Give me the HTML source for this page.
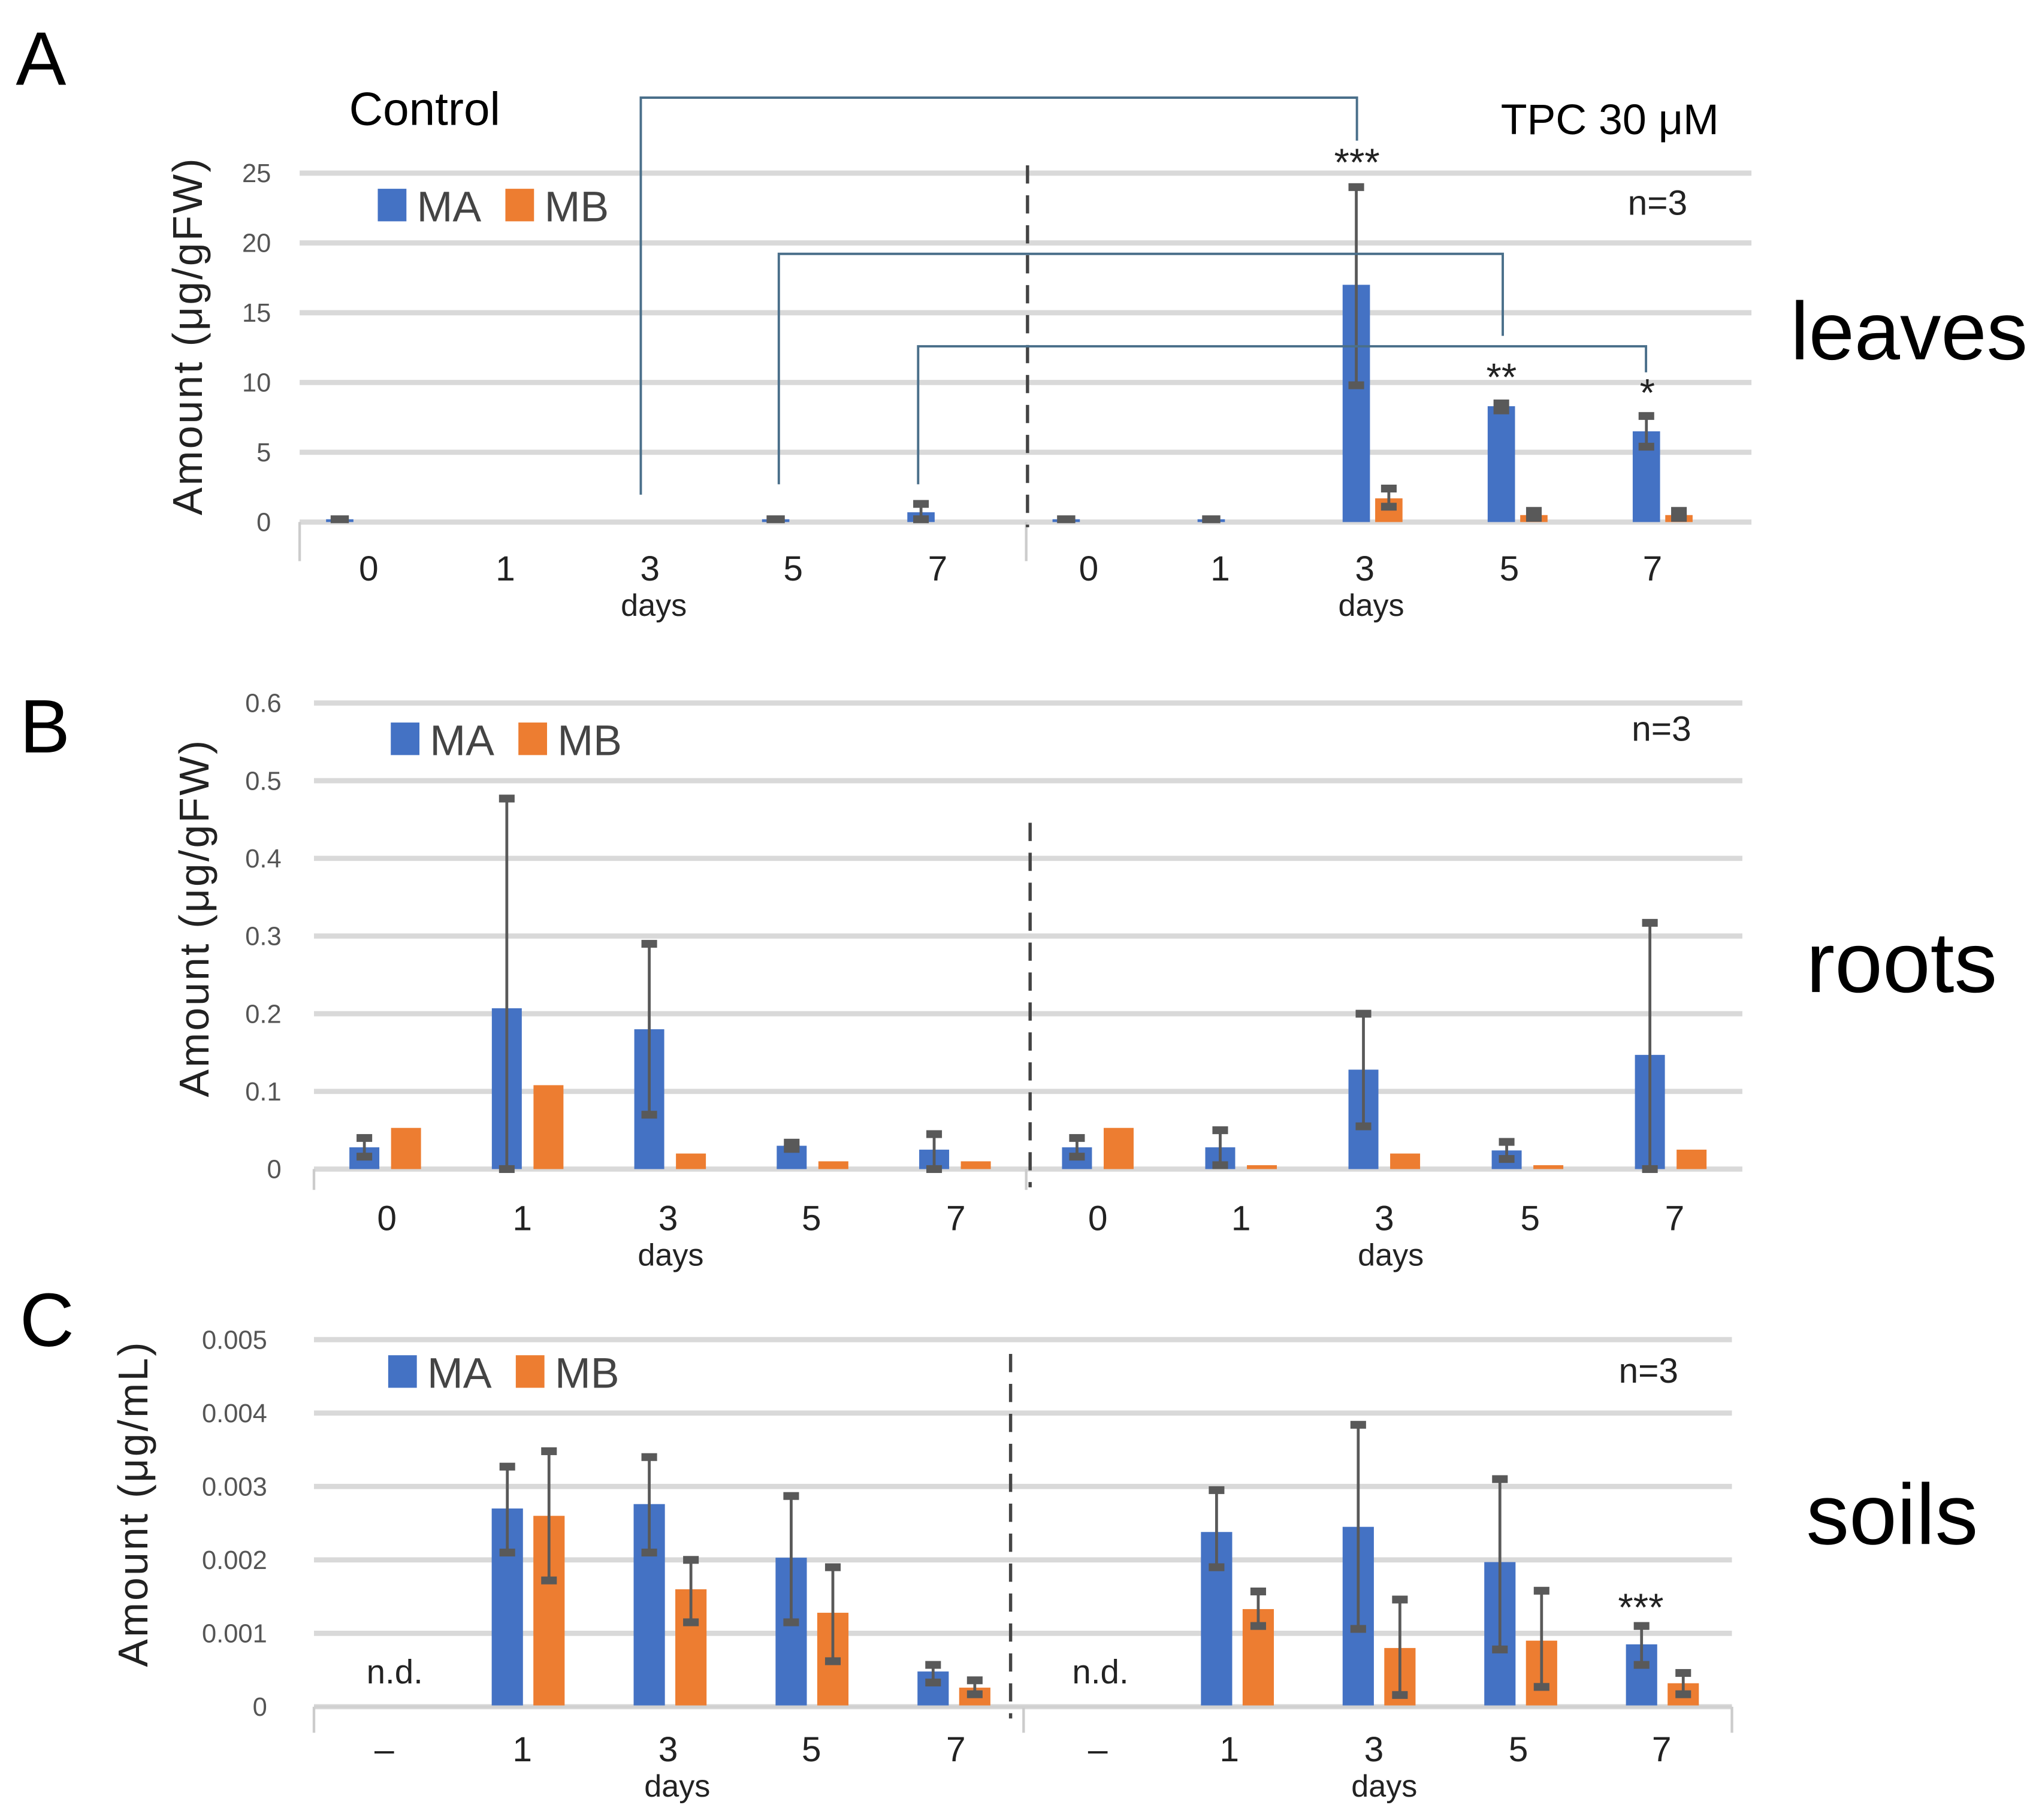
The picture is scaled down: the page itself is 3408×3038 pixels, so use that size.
<!DOCTYPE html>
<html><head><meta charset="utf-8"><style>
html,body{margin:0;padding:0;background:#fff}
svg{display:block}
text{font-family:"Liberation Sans",sans-serif}
</style></head><body>
<svg id="fig" width="3408" height="3038" viewBox="0 0 1568 1398" xmlns="http://www.w3.org/2000/svg">
<g id="static">
<text x="12" y="65" font-size="58">A</text>
<text x="268" y="96" font-size="36">Control</text>
<text x="1320" y="103" font-size="33" text-anchor="end">TPC 30 μM</text>
<text x="1375" y="276" font-size="63">leaves</text>
<text x="15" y="578" font-size="58">B</text>
<text x="1387" y="762" font-size="66">roots</text>
<text x="15" y="1034" font-size="58">C</text>
<text x="1387" y="1186" font-size="66">soils</text>
</g>
</svg>
<script>
// ---------- Panel A (leaves) ----------
const catsA = ["0","1","3","5","7","0","1","3","5","7"];
const maA   = [0.2,0,0,0.2,0.7, 0.2,0.2,17,8.3,6.5];
const maAhi = [0.2,0,0,0.2,1.3, 0.2,0.2,24,8.5,7.6];
const maAlo = [0.2,0,0,0.2,0.2, 0.2,0.2,9.8,8.0,5.4];
const mbA   = [0,0,0,0,0, 0,0,1.7,0.5,0.5];
const mbAhi = [0,0,0,0,0, 0,0,2.4,0.8,0.8];
const mbAlo = [0,0,0,0,0, 0,0,1.1,0.3,0.3];
const ticksA = [0,5,10,15,20,25];
// ---------- Panel B (roots) ----------
const catsB = ["0","1","3","5","7","0","1","3","5","7"];
const maB   = [0.028,0.207,0.18,0.03,0.025, 0.028,0.028,0.128,0.024,0.147];
const maBhi = [0.040,0.477,0.29,0.034,0.045, 0.040,0.050,0.200,0.035,0.317];
const maBlo = [0.016,0,0.07,0.026,0, 0.016,0.005,0.055,0.013,0];
const mbB   = [0.053,0.108,0.02,0.01,0.01, 0.053,0.005,0.02,0.005,0.025];
const mbBhi = [0,0,0,0,0, 0,0,0,0,0];
const mbBlo = [0,0,0,0,0, 0,0,0,0,0];
const ticksB = [0,0.1,0.2,0.3,0.4,0.5,0.6];
// ---------- Panel C (soils) ----------
const catsC = ["–","1","3","5","7","–","1","3","5","7"];
const maC   = [null,0.0027,0.00276,0.00203,0.00048, null,0.00238,0.00245,0.00197,0.00085];
const maChi = [null,0.00327,0.0034,0.00287,0.00057, null,0.00295,0.00384,0.0031,0.0011];
const maClo = [null,0.0021,0.0021,0.00115,0.00033, null,0.0019,0.00106,0.00078,0.00057];
const mbC   = [null,0.0026,0.0016,0.00128,0.00026, null,0.00133,0.0008,0.0009,0.00032];
const mbChi = [null,0.00348,0.002,0.0019,0.00036, null,0.00157,0.00146,0.00158,0.00046];
const mbClo = [null,0.00172,0.00115,0.00062,0.00017, null,0.0011,0.00016,0.00027,0.00017];
const ticksC = [0,0.001,0.002,0.003,0.004,0.005];

const NS="http://www.w3.org/2000/svg";
const svg=document.getElementById('fig');
const BLUE="#4472C4", ORANGE="#ED7D31", GRID="#d9d9d9", ERR="#595959";
function el(tag,attrs,parent){const e=document.createElementNS(NS,tag);for(const k in attrs)e.setAttribute(k,attrs[k]);(parent||svg).appendChild(e);return e;}
function txt(s,attrs,parent){const t=el('text',attrs,parent);t.textContent=s;return t;}

function drawPanel(p){
  const g=el('g',{});
  
  
  const y=v=>p.y0-(v-p.vmin)/(p.vmax-p.vmin)*(p.y0-p.y1);
  p.ticks.forEach(t=>{
    const ln=el('line',{x1:p.xl,x2:p.xr,y1:y(t),y2:y(t),stroke:GRID,'stroke-width':4},g);
    
    
    const tl=txt(p.fmt(t),{x:p.tickX,y:y(t)+7,'font-size':20,fill:'#555','text-anchor':'end'},g);
    
    
  });
  [p.xl,p.xm,p.xr].forEach((xx,i)=>{
    if(i===2 && !p.rightTick) return;
    const l=el('line',{x1:xx,x2:xx,y1:p.y0,y2:p.y0+p.tickLen,stroke:'#ccc','stroke-width':2},g);
    
    
  });
  const d=el('line',{x1:p.dashX,x2:p.dashX,y1:p.dashTop,y2:p.dashBot,stroke:'#444','stroke-width':2.5,'stroke-dasharray':'14,9'},g);
  
  
  const bw=p.bw;
  for(let i=0;i<p.cats.length;i++){
    const left=i<5, k=i%5;
    const band=left?(p.xm-p.xl)/5:(p.xr-p.xm)/5;
    const c=(left?p.xl:p.xm)+band*(k+0.5);
    const series=[[p.ma,p.mahi,p.malo,BLUE,c+p.offA,'bar-ma'],[p.mb,p.mbhi,p.mblo,ORANGE,c+p.offB,'bar-mb']];
    series.forEach(s=>{
      const v=s[0][i]; if(v===null) return;
      if(v>0){
        const r=el('rect',{x:s[4]-bw/2,y:y(v),width:bw,height:y(0)-y(v),fill:s[3]},g);
        
        
      }
      const hi=s[1][i], lo=s[2][i];
      if(hi!==null && hi>0 && hi-lo>0){
        const e=el('line',{x1:s[4],x2:s[4],y1:y(hi),y2:y(lo),stroke:ERR,'stroke-width':2.2},g);
        
        
        [hi,lo].forEach(vv=>{
          const cp=el('rect',{x:s[4]-6,y:y(vv)-3,width:12,height:6,fill:ERR},g);
          
          
        });
      } else if(hi>0){
        const cp=el('rect',{x:s[4]-7,y:y(hi)-3,width:14,height:6,fill:ERR},g);
        
        
      }
    });
    const lx=p.labelX[i];
    const tl=txt(p.cats[i],{x:lx,y:p.labY,'font-size':27,fill:'#222','text-anchor':'middle'},g);
    
    
  }
  p.daysX.forEach(dx=>{
    const t=txt('days',{x:dx,y:p.daysY,'font-size':24,fill:'#222','text-anchor':'middle'},g);
    
    
  });
  const l1=el('rect',{x:p.legX,y:p.legY,width:22,height:25,fill:BLUE},g);
  
  
  const t1=txt('MA',{x:p.legX+30,y:p.legY+25,'font-size':33,fill:'#444'},g);
  
  
  const l2=el('rect',{x:p.legX+98,y:p.legY,width:22,height:25,fill:ORANGE},g);
  
  
  const t2=txt('MB',{x:p.legX+128,y:p.legY+25,'font-size':33,fill:'#444'},g);
  
  
  const n=txt('n=3',{x:p.nX,y:p.nY,'font-size':27,fill:'#222'},g);
  
  
  const yt=txt(p.ytitle,{x:0,y:0,'font-size':32,fill:'#222','text-anchor':'middle','letter-spacing':'1.5',transform:`translate(${p.ytX},${p.ytY}) rotate(-90)`},g);
  
  
  return y;
}

const yA=drawPanel({name:'panel-a-leaves',cats:catsA,ma:maA,mahi:maAhi,malo:maAlo,mb:mbA,mbhi:mbAhi,mblo:mbAlo,
  ticks:ticksA,fmt:t=>String(t),vmin:0,vmax:25,y0:401,y1:133,xl:230,xm:788,xr:1345,tickX:208,tickLen:30,rightTick:false,
  dashX:789,dashTop:127,dashBot:405,bw:21,offA:-25,offB:0,
  labelX:[283,388,499,609,720,836,937,1048,1159,1269],labY:446,daysX:[502,1053],daysY:473,
  legX:290,legY:145,nX:1250,nY:165,ytitle:'Amount  (μg/gFW)',ytX:155,ytY:258});
const BR="#4a6f8a";
[[492,1042,75,380,108],[598,1154,195,372,258],[705,1264,266,372,286]].forEach((b,i)=>{
  const pth=el('path',{d:`M${b[0]},${b[3]} V${b[2]} H${b[1]} V${b[4]}`,fill:'none',stroke:BR,'stroke-width':1.8});
  
  
});
[["***",1042,135],["**",1153,300],["*",1265,312]].forEach(s=>{
  const t=txt(s[0],{x:s[1],y:s[2],'font-size':30,fill:'#222','text-anchor':'middle'});
  
  
});

drawPanel({name:'panel-b-roots',cats:catsB,ma:maB,mahi:maBhi,malo:maBlo,mb:mbB,mbhi:mbBhi,mblo:mbBlo,
  ticks:ticksB,fmt:t=>String(t),vmin:0,vmax:0.6,y0:898,y1:540,xl:241,xm:788,xr:1338,tickX:216,tickLen:16,rightTick:false,
  dashX:791,dashTop:632,dashBot:912,bw:23,offA:-16,offB:16,
  labelX:[297,401,513,623,734,843,953,1063,1175,1286],labY:945,daysX:[515,1068],daysY:972,
  legX:300,legY:555,nX:1253,nY:569,ytitle:'Amount  (μg/gFW)',ytX:160,ytY:705});

drawPanel({name:'panel-c-soils',cats:catsC,ma:maC,mahi:maChi,malo:maClo,mb:mbC,mbhi:mbChi,mblo:mbClo,
  ticks:ticksC,fmt:t=>String(t),vmin:0,vmax:0.005,y0:1311,y1:1029,xl:241,xm:786,xr:1330,tickX:205,tickLen:20,rightTick:true,
  dashX:776,dashTop:1040,dashBot:1320,bw:24,offA:-15,offB:17,
  labelX:[295,401,513,623,734,843,944,1055,1166,1276],labY:1353,daysX:[520,1063],daysY:1380,
  legX:298,legY:1041,nX:1243,nY:1062,ytitle:'Amount  (μg/mL)',ytX:113,ytY:1155});
const axc=el('line',{x1:241,x2:1330,y1:1311,y2:1311,stroke:'#d0d0d0','stroke-width':2});


[["n.d.",303],["n.d.",845]].forEach(s=>{
  const t=txt(s[0],{x:s[1],y:1293,'font-size':26,fill:'#222','text-anchor':'middle'});
  
  
});
[[1260,1245]].forEach(s=>{
  const t=txt('***',{x:s[0],y:s[1],'font-size':30,fill:'#222','text-anchor':'middle'});
  
  
});
</script>
</body></html>
